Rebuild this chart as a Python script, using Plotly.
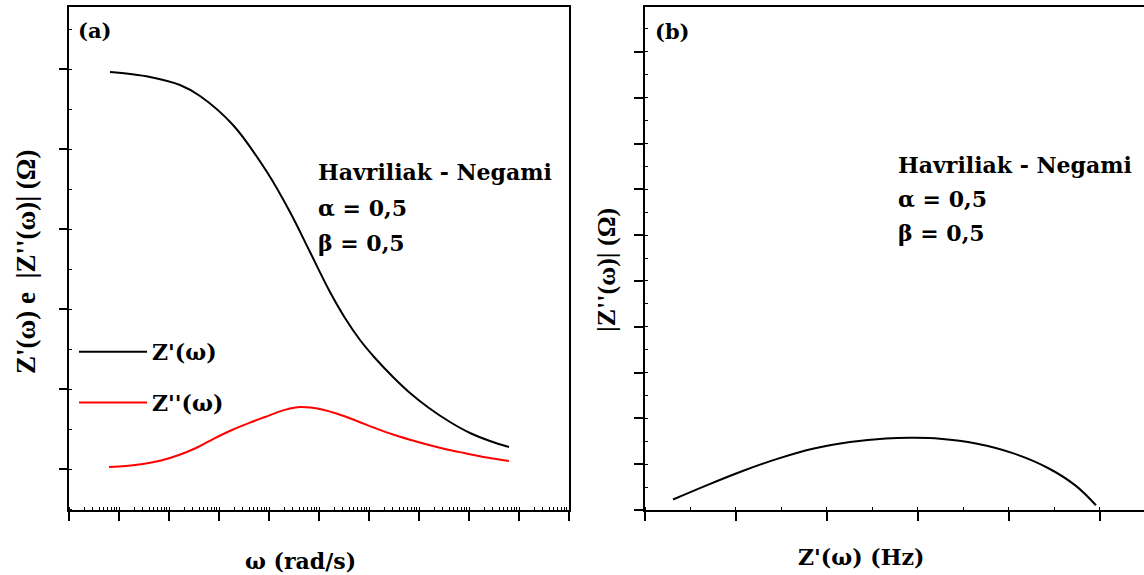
import plotly.graph_objects as go

# ---------------- Panel (a): Z'(w) and Z''(w) vs w (log scale) ----------------
omega_real = [6.61, 16.6, 41.7, 166, 417, 1905, 9120, 2.63e4, 6.61e4, 1.66e5,
              3.31e5, 6.61e5, 1.32e6, 3.02e6, 6.61e6, 1.585e7, 4.17e7, 1.047e8,
              2.63e8, 6.31e8]
z_real = [4.9625, 4.9375, 4.90, 4.80, 4.6625, 4.30, 3.7125, 3.2125, 2.7125, 2.2125,
          1.8875, 1.6125, 1.3875, 1.15, 0.95, 0.7625, 0.5875, 0.45, 0.35, 0.275]

omega_imag = [6.31, 13.8, 30.2, 69.2, 158, 347, 794, 1820, 4170, 8320, 1.66e4,
              2.63e4, 4.17e4, 6.61e4, 1.15e5, 2.40e5, 5.75e5, 1.32e6, 3.02e6,
              6.92e6, 1.585e7, 3.63e7, 7.94e7, 2.29e8, 6.31e8]
z_imag = [0.025, 0.0375, 0.0625, 0.106, 0.175, 0.2625, 0.38, 0.4875, 0.58, 0.65, 0.72,
          0.756, 0.775, 0.769, 0.744, 0.6875, 0.60, 0.5125, 0.431,
          0.3625, 0.30, 0.244, 0.20, 0.144, 0.10]

# ---------------- Panel (b): Nyquist plot ----------------
nyq_real = [0.308, 0.670, 1.066, 1.462, 1.857, 2.253, 2.648, 2.967, 3.242, 3.637,
            4.033, 4.429, 4.736, 4.956]
nyq_imag = [0.229, 0.533, 0.847, 1.122, 1.343, 1.485, 1.563, 1.576, 1.555, 1.452,
            1.247, 0.917, 0.526, 0.103]

legend_names = ["Z'(ω)", "Z''(ω)"]
panel_labels = ["(a)", "(b)"]
model_lines = ["Havriliak - Negami", "α = 0,5", "β = 0,5"]
axis_titles = ["ω (rad/s)", "Z'(ω) (Hz)", "Z'(ω) e&nbsp; |Z''(ω)| (Ω)", "|Z''(ω)| (Ω)"]

W, H = 1144, 575
FONT = "DejaVu Serif, Liberation Serif, serif"
FONT_ROT = "Liberation Serif, Times New Roman, serif"

fig = go.Figure()
fig.add_trace(go.Scatter(x=omega_real, y=z_real, mode="lines", name=legend_names[0],
                         line=dict(color="black", width=2, shape="spline", smoothing=1.0),
                         xaxis="x", yaxis="y", legendgroup="g1"))
fig.add_trace(go.Scatter(x=omega_imag, y=z_imag, mode="lines", name=legend_names[1],
                         line=dict(color="#ff0000", width=2, shape="spline", smoothing=1.0),
                         xaxis="x", yaxis="y", legendgroup="g2"))
fig.add_trace(go.Scatter(x=nyq_real, y=nyq_imag, mode="lines", showlegend=False,
                         line=dict(color="black", width=2, shape="spline", smoothing=1.0),
                         xaxis="x2", yaxis="y2"))

common = dict(showline=True, linecolor="black", linewidth=2, showgrid=False,
              zeroline=False, showticklabels=False, ticks="outside",
              tickcolor="black", tickwidth=2)
minor_lin = dict(ticks="inside", ticklen=3, tickcolor="black", tickwidth=1,
                 dtick=0.5, showgrid=False)

ydom = [1 - 510 / H, 1 - 7 / H]

fig.update_layout(
    width=W, height=H,
    margin=dict(l=0, r=0, t=0, b=0),
    paper_bgcolor="white", plot_bgcolor="white",
    font=dict(family=FONT, size=22, color="black"),
    xaxis=dict(domain=[69 / W, 569 / W], anchor="y", type="log", range=[0, 10],
               dtick=1, ticklen=9, mirror=True,
               minor=dict(ticks="inside", ticklen=3, tickcolor="black", tickwidth=1,
                          showgrid=False),
               **common),
    yaxis=dict(domain=ydom, anchor="x", range=[-0.5125, 5.775], tick0=0, dtick=1,
               ticklen=8, mirror=True, minor=minor_lin, **common),
    xaxis2=dict(domain=[645 / W, 1.0], anchor="y2", range=[0, 5.484], tick0=0, dtick=1,
                ticklen=9, mirror=True, minor=minor_lin, **common),
    yaxis2=dict(domain=ydom, anchor="x2", range=[0, 10.98], tick0=0, dtick=1,
                ticklen=9, mirror=False, minor=minor_lin, **common),
    legend=dict(x=74 / W, y=1 - 331 / H, xanchor="left", yanchor="top",
                bgcolor="rgba(0,0,0,0)", borderwidth=0,
                font=dict(family=FONT, size=22, color="black", weight="bold"),
                tracegroupgap=19, itemwidth=68, traceorder="grouped"),
)


def txt(x, y, s, size=22, xanchor="left", angle=0, family=FONT):
    fig.add_annotation(x=x / W, y=1 - y / H, xref="paper", yref="paper", text=s,
                       showarrow=False, xanchor=xanchor, yanchor="middle", textangle=angle,
                       font=dict(family=family, size=size, color="black", weight="bold"))


# panel labels
txt(76, 30, panel_labels[0], size=21)
txt(653, 31, panel_labels[1], size=21)

# model annotation text
for i, s in enumerate(model_lines):
    txt(316, 172 + 35.5 * i, s)
    txt(896, 165 + 34 * i, s)

# axis titles
txt(300, 561, axis_titles[0], xanchor="center")
txt(861, 557, axis_titles[1], xanchor="center")
txt(26, 262, axis_titles[2], size=27, xanchor="center", angle=-90, family=FONT_ROT)
txt(606, 270, axis_titles[3], size=26, xanchor="center", angle=-90, family=FONT_ROT)

fig.write_html("out.html", config={"displayModeBar": False},
               post_script="document.body.style.margin='0';document.body.style.overflow='hidden';")
